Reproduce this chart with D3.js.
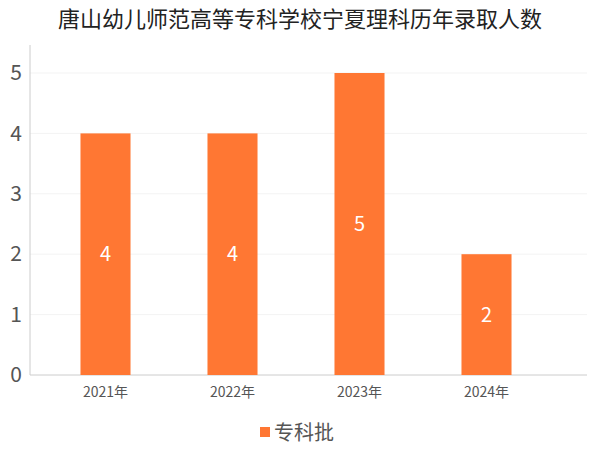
<!DOCTYPE html>
<html><head><meta charset="utf-8">
<script src="https://cdn.jsdelivr.net/npm/d3@7"></script>
<style>body{margin:0;background:#fff;font-family:"Noto Sans CJK SC","Noto Sans",sans-serif;}</style>
</head><body>
<svg id="chart" width="600" height="450"></svg>
<script>
const years = ["2021年", "2022年", "2023年", "2024年"];
const counts = [4, 4, 5, 2];
const yTicks = [0, 1, 2, 3, 4, 5];
const seriesName = "专科批";
const barColor = "#FF7733";

const svg = d3.select("#chart");
const m = {left: 42, right: 587, top: 73, bottom: 375};

svg.append("text").attr("x", 300).attr("y", 27).attr("text-anchor", "middle")
  .attr("font-size", 22).attr("fill", "#222").text("唐山幼儿师范高等专科学校宁夏理科历年录取人数");

const x = d3.scaleBand().domain(years).range([m.left, 550]).paddingInner(0.606).paddingOuter(0.303);
const y = d3.scaleLinear().domain([0, 5]).range([m.bottom, m.top]);

// grid
svg.append("g").selectAll("line").data(yTicks.slice(1)).enter().append("line")
  .attr("x1", m.left - 12).attr("x2", m.right)
  .attr("y1", d => y(d)).attr("y2", d => y(d))
  .attr("stroke", "#f3f3f3");

// y axis
const ya = svg.append("g").attr("transform", `translate(${m.left - 12},0)`)
  .call(d3.axisLeft(y).tickValues(yTicks).tickFormat(d3.format("d")).tickSize(0).tickPadding(8));
ya.select(".domain").remove();
ya.selectAll("text").attr("font-size", 21).attr("fill", "#555").attr("font-family", "Noto Sans CJK SC");
svg.append("line").attr("x1", m.left - 12).attr("x2", m.left - 12).attr("y1", 45).attr("y2", m.bottom)
  .attr("stroke", "#ccc");

// x axis
const xa = svg.append("g").attr("transform", `translate(0,${m.bottom})`)
  .call(d3.axisBottom(x).tickSize(0).tickPadding(12));
xa.select(".domain").attr("stroke", "#ccc").attr("d", `M${m.left - 12},0H${m.right}`);
xa.selectAll("text").attr("font-size", 14).attr("fill", "#555").attr("font-family", "Noto Sans CJK SC");

// bars
svg.append("g").selectAll("rect").data(counts).enter().append("rect")
  .attr("x", (d, i) => x(years[i])).attr("width", x.bandwidth())
  .attr("y", d => y(d)).attr("height", d => y(0) - y(d))
  .attr("fill", barColor);

svg.append("g").selectAll("text").data(counts).enter().append("text")
  .attr("x", (d, i) => x(years[i]) + x.bandwidth() / 2)
  .attr("y", d => (y(d) + y(0)) / 2 + 7)
  .attr("text-anchor", "middle").attr("font-size", 20).attr("fill", "#fff")
  .text(d => d);

// legend
svg.append("rect").attr("x", 260).attr("y", 427).attr("width", 10).attr("height", 10).attr("fill", barColor);
svg.append("text").attr("x", 274).attr("y", 440).attr("font-size", 20).attr("fill", "#555").text(seriesName);
</script>
</body></html>
